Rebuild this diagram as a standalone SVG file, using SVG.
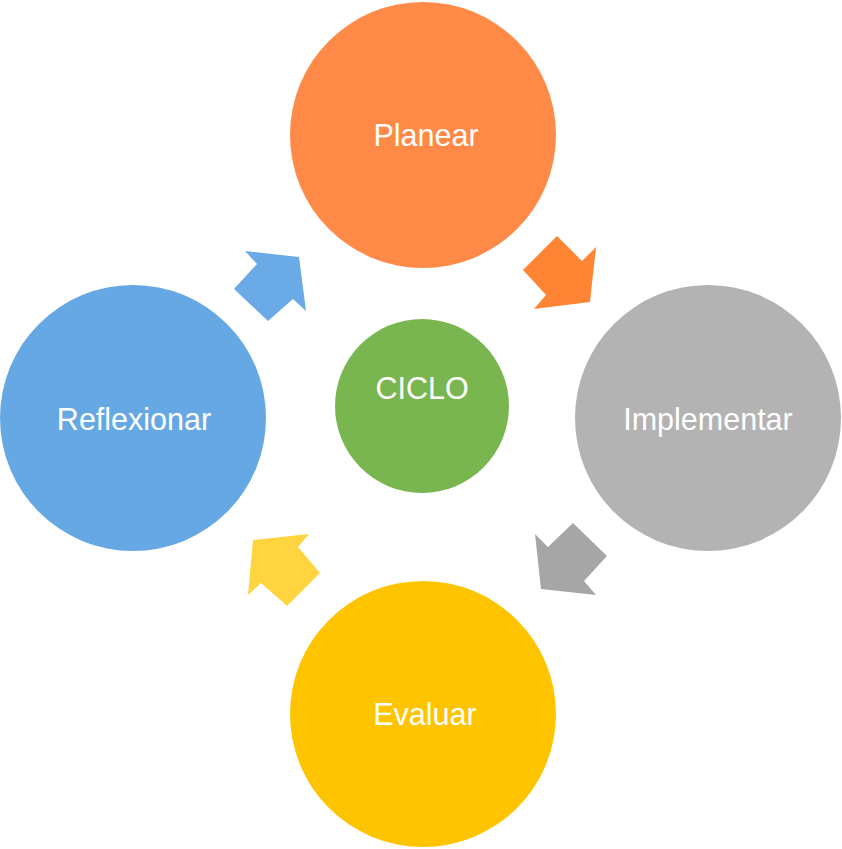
<svg xmlns="http://www.w3.org/2000/svg" width="842" height="849" viewBox="0 0 842 849">
<style>
  .lbl { font-family: "Liberation Sans", Arial, sans-serif; font-size: 30.5px; fill: #ffffff; text-anchor: middle; }
</style>
<rect width="842" height="849" fill="#ffffff"/>
<g id="connectors">
  <polygon id="arrow-planear-implementar" fill="#FF8534" points="523,270 557,236 582,261 596,247 590,302 534,309 546,295"/>
  <polygon id="arrow-implementar-evaluar" fill="#A6A6A6" points="573,523 607,556 584,581 596,595 541,589 535,534 548,547"/>
  <polygon id="arrow-evaluar-reflexionar" fill="#FFD43F" points="320,573 287,606 261,583 248,595 253,540 309,534 298,547"/>
  <polygon id="arrow-reflexionar-planear" fill="#6AAAE6" points="268,321 234,289 257,264 245,251 299,257 306,311 293,299"/>
</g>
<g id="planear">
  <circle cx="423" cy="135" r="133" fill="#FF8A47"/>
  <text class="lbl" x="426" y="146">Planear</text>
</g>
<g id="implementar">
  <circle cx="708" cy="418" r="133" fill="#B3B3B3"/>
  <text class="lbl" x="708" y="430">Implementar</text>
</g>
<g id="evaluar">
  <circle cx="423" cy="714" r="133" fill="#FFC400"/>
  <text class="lbl" x="425" y="725">Evaluar</text>
</g>
<g id="reflexionar">
  <circle cx="133" cy="418" r="133" fill="#66A8E3"/>
  <text class="lbl" x="134" y="430">Reflexionar</text>
</g>
<g id="ciclo">
  <circle cx="422" cy="406" r="87" fill="#7AB64F"/>
  <text class="lbl" x="422" y="399">CICLO</text>
</g>
</svg>
